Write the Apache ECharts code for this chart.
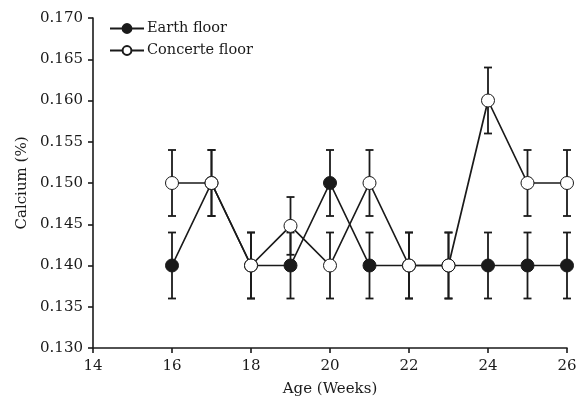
<!DOCTYPE html>
<html>
<head>
<meta charset="utf-8">
<script src="https://cdn.jsdelivr.net/npm/echarts@6/dist/echarts.min.js"></script>
<style>html,body{margin:0;padding:0;background:#fff}#c{width:586px;height:402px}</style>
</head>
<body>
<div id="c"></div>
<script>
var weeks = [16, 17, 18, 19, 20, 21, 22, 23, 24, 25, 26];
var earth = [0.140, 0.150, 0.140, 0.140, 0.150, 0.140, 0.140, 0.140, 0.140, 0.140, 0.140];
var earthErr = [0.004, 0.004, 0.004, 0.004, 0.004, 0.004, 0.004, 0.004, 0.004, 0.004, 0.004];
var concrete = [0.150, 0.150, 0.140, 0.1448, 0.140, 0.150, 0.140, 0.140, 0.160, 0.150, 0.150];
var concreteErr = [0.004, 0.004, 0.004, 0.0035, 0.004, 0.004, 0.004, 0.004, 0.004, 0.004, 0.004];
var seriesNames = ['Earth floor', 'Concerte floor'];

var font = 'DejaVu Serif';
var ink = '#1a1a1a';
function pairs(ys) { return weeks.map(function (w, i) { return [w, ys[i]]; }); }
function errData(ys, es) { return weeks.map(function (w, i) { return [w, ys[i] - es[i], ys[i] + es[i]]; }); }
function errRender(params, api) {
  var x = api.value(0), lo = api.value(1), hi = api.value(2);
  var pLo = api.coord([x, lo]), pHi = api.coord([x, hi]);
  var hw = 4;
  var st = { stroke: ink, lineWidth: 1.8 };
  return {
    type: 'group',
    children: [
      { type: 'line', shape: { x1: pLo[0], y1: pLo[1], x2: pHi[0], y2: pHi[1] }, style: st },
      { type: 'line', shape: { x1: pLo[0] - hw, y1: pLo[1], x2: pLo[0] + hw, y2: pLo[1] }, style: st },
      { type: 'line', shape: { x1: pHi[0] - hw, y1: pHi[1], x2: pHi[0] + hw, y2: pHi[1] }, style: st }
    ]
  };
}
var chart = echarts.init(document.getElementById('c'));
chart.setOption({
  animation: false,
  backgroundColor: '#fff',
  grid: { left: 93, right: 19, top: 18, bottom: 53 },
  legend: {
    data: seriesNames,
    orient: 'vertical',
    left: 109, top: 21, padding: 0,
    itemWidth: 34, itemHeight: 11, itemGap: 7,
    textStyle: { fontFamily: font, fontSize: 14.5, color: ink, padding: [0, 0, 0, -2] }
  },
  xAxis: {
    type: 'value', min: 14, max: 26, interval: 2,
    name: 'Age (Weeks)', nameLocation: 'middle', nameGap: 34,
    nameTextStyle: { fontFamily: font, fontSize: 15, color: ink },
    axisLine: { lineStyle: { color: ink, width: 1.6 } },
    axisTick: { length: 5, lineStyle: { color: ink, width: 1.6 } },
    axisLabel: { fontFamily: font, fontSize: 15, color: ink, margin: 11 },
    splitLine: { show: false }
  },
  yAxis: {
    type: 'value', min: 0.130, max: 0.170, interval: 0.005,
    name: 'Calcium (%)', nameLocation: 'middle', nameGap: 63,
    nameTextStyle: { fontFamily: font, fontSize: 15, color: ink },
    axisLine: { show: true, lineStyle: { color: ink, width: 1.6 } },
    axisTick: { show: true, length: 5, lineStyle: { color: ink, width: 1.6 } },
    axisLabel: { fontFamily: font, fontSize: 15, color: ink, margin: 10, formatter: function (v) { return v.toFixed(3); } },
    splitLine: { show: false }
  },
  series: [
    { type: 'custom', renderItem: errRender, data: errData(earth, earthErr), z: 1, silent: true, encode: { x: 0, y: [1, 2] } },
    { type: 'custom', renderItem: errRender, data: errData(concrete, concreteErr), z: 1, silent: true, encode: { x: 0, y: [1, 2] } },
    {
      name: seriesNames[0], type: 'line', data: pairs(earth), z: 3,
      symbol: 'circle', symbolSize: 13,
      lineStyle: { color: ink, width: 1.7 },
      itemStyle: { color: ink, borderColor: ink, borderWidth: 1 }
    },
    {
      name: seriesNames[1], type: 'line', data: pairs(concrete), z: 4,
      symbol: 'circle', symbolSize: 13,
      lineStyle: { color: ink, width: 1.7 },
      itemStyle: { color: '#fff', borderColor: ink, borderWidth: 1 }
    }
  ]
});
</script>
</body>
</html>
